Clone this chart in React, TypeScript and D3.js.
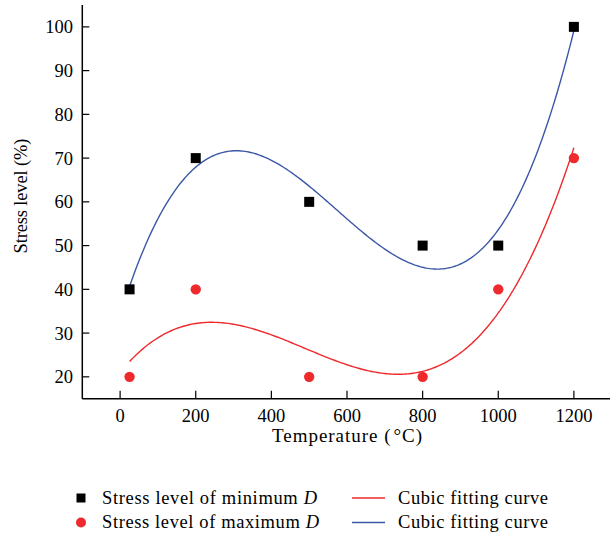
import React from "react";
import * as d3 from "d3";

const temperatures = [25, 200, 500, 800, 1000, 1200];
const minDStress = [40, 70, 60, 50, 50, 100];
const maxDStress = [20, 40, 20, 20, 40, 70];
const xTicks = [0, 200, 400, 600, 800, 1000, 1200];
const yTicks = [20, 30, 40, 50, 60, 70, 80, 90, 100];

const RED = "#ee2a2d";
const BLUE = "#3b58a8";
const FONT = "'Liberation Serif', 'Times New Roman', serif";
const FS = 18.5;

function cubicFit(xs: number[], ys: number[]) {
  const s = 1000;
  const n = 4;
  const A: number[][] = Array.from({ length: n }, () => Array(n + 1).fill(0));
  xs.forEach((xv, k) => {
    const t = xv / s;
    const p = [1, t, t * t, t * t * t];
    for (let i = 0; i < n; i++) {
      for (let j = 0; j < n; j++) A[i][j] += p[i] * p[j];
      A[i][n] += p[i] * ys[k];
    }
  });
  for (let i = 0; i < n; i++) {
    let m = i;
    for (let r = i + 1; r < n; r++) if (Math.abs(A[r][i]) > Math.abs(A[m][i])) m = r;
    [A[i], A[m]] = [A[m], A[i]];
    for (let r = 0; r < n; r++) {
      if (r === i) continue;
      const f = A[r][i] / A[i][i];
      for (let c = i; c <= n; c++) A[r][c] -= f * A[i][c];
    }
  }
  const c = A.map((row, i) => row[n] / row[i]);
  return (xv: number) => {
    const t = xv / s;
    return c[0] + c[1] * t + c[2] * t * t + c[3] * t * t * t;
  };
}

export default function App() {
  const W = 610, H = 534;
  const x = d3.scaleLinear().domain([-100, 1300]).range([82.3, 611.7]);
  const y = d3.scaleLinear().domain([15, 105]).range([398.7, 5]);

  const samples = d3.range(25, 1200.01, 5);
  const fitMin = cubicFit(temperatures, minDStress);
  const fitMax = cubicFit(temperatures, maxDStress);
  const line = (f: (v: number) => number) =>
    d3.line<number>().x((d) => x(d)).y((d) => y(f(d))).curve(d3.curveLinear)(samples) || "";

  const x0 = x(-100), yb = y(15);

  return (
    <svg width={W} height={H} style={{ position: "absolute", left: 0, top: 0 }} fontFamily={FONT}>
      <rect width={W} height={H} fill="white" />
      {/* axes */}
      <line x1={x0} y1={y(105)} x2={x0} y2={yb} stroke="black" strokeWidth={1.5} />
      <line x1={x0} y1={yb} x2={W} y2={yb} stroke="black" strokeWidth={1.5} />
      {yTicks.map((t) => (
        <g key={"y" + t}>
          <line x1={x0} x2={x0 + 7} y1={y(t)} y2={y(t)} stroke="black" strokeWidth={1.2} />
          <text x={73} y={y(t)} dy="0.35em" textAnchor="end" fontSize={FS}>
            {t}
          </text>
        </g>
      ))}
      {xTicks.map((t) => (
        <g key={"x" + t}>
          <line x1={x(t)} x2={x(t)} y1={yb} y2={yb - 8} stroke="black" strokeWidth={1.2} />
          <text x={x(t)} y={422} textAnchor="middle" fontSize={FS}>
            {t}
          </text>
        </g>
      ))}
      <text x={272} y={442} fontSize={19} textLength={150} lengthAdjust="spacing">
        Temperature (<tspan dx={2}>°</tspan>C)
      </text>
      <text transform={`translate(27,253.5) rotate(-90)`} fontSize={FS} textLength={115} lengthAdjust="spacing">
        Stress level (%)
      </text>

      {/* curves */}
      <path d={line(fitMin)} fill="none" stroke={BLUE} strokeWidth={1.4} />
      <path d={line(fitMax)} fill="none" stroke={RED} strokeWidth={1.4} />

      {/* points */}
      {temperatures.map((t, i) => (
        <rect key={"s" + i} x={x(t) - 5} y={y(minDStress[i]) - 5} width={10} height={10} fill="black" />
      ))}
      {temperatures.map((t, i) => (
        <circle key={"c" + i} cx={x(t)} cy={y(maxDStress[i])} r={5.2} fill={RED} />
      ))}

      {/* legend */}
      <rect x={76.5} y={493.5} width={9} height={9} fill="black" />
      <text x={102} y={504} fontSize={FS} textLength={215} lengthAdjust="spacing">
        Stress level of minimum <tspan fontStyle="italic">D</tspan>
      </text>
      <circle cx={81} cy={522.5} r={5} fill={RED} />
      <text x={102} y={528} fontSize={FS} textLength={217} lengthAdjust="spacing">
        Stress level of maximum <tspan fontStyle="italic">D</tspan>
      </text>
      <line x1={352} x2={385} y1={498} y2={498} stroke={RED} strokeWidth={1.4} />
      <text x={398} y={504} fontSize={FS} textLength={150} lengthAdjust="spacing">Cubic fitting curve</text>
      <line x1={352} x2={385} y1={522.5} y2={522.5} stroke={BLUE} strokeWidth={1.4} />
      <text x={398} y={528} fontSize={FS} textLength={150} lengthAdjust="spacing">Cubic fitting curve</text>
    </svg>
  );
}
